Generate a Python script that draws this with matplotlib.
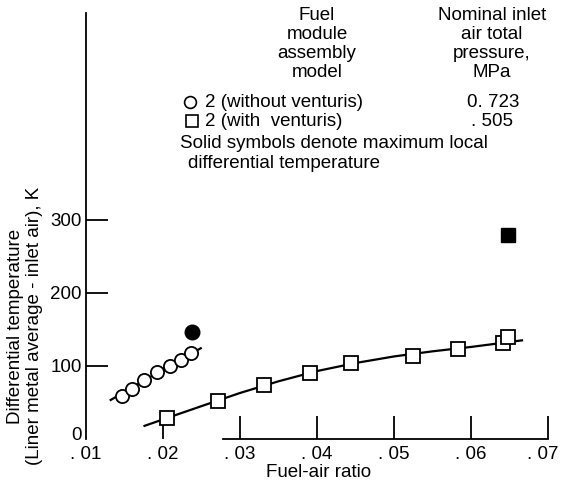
import matplotlib
matplotlib.use("Agg")
import matplotlib.pyplot as plt
from matplotlib import font_manager
from matplotlib.transforms import ScaledTranslation

# ---------------- data ----------------
circ_x = [0.01462, 0.01592, 0.01755, 0.01920, 0.02093, 0.02231, 0.02360]
circ_y = [58.9, 68.1, 80.8, 92.2, 100.0, 108.2, 117.4]
circ_max_x = [0.02382]
circ_max_y = [147.0]
circ_fit_x = [0.0132, 0.0190, 0.0249]
circ_fit_y = [53.4, 89.0, 124.2]

sq_x = [0.0205, 0.02714, 0.03310, 0.03902, 0.04446, 0.05245, 0.05836, 0.06411, 0.06475]
sq_y = [28.4, 52.5, 74.0, 90.8, 104.5, 114.1, 123.3, 131.1, 139.3]
sq_max_x = [0.06483]
sq_max_y = [279.5]
sq_fit_x = [0.0176, 0.0206, 0.025, 0.030, 0.035, 0.040, 0.045, 0.050, 0.055, 0.060, 0.0666]
sq_fit_y = [18, 29, 45, 63, 79, 93, 104, 113, 120, 126, 135]

x_ticks = [0.01, 0.02, 0.03, 0.04, 0.05, 0.06, 0.07]
x_tick_labels = [". 01", ". 02", ". 03", ". 04", ". 05", ". 06", ". 07"]
y_ticks = [0, 100, 200, 300]
y_tick_labels = ["0", "100", "200", "300"]

# ---------------- font ----------------
names = {f.name for f in font_manager.fontManager.ttflist}
if "Liberation Sans" in names:
    plt.rcParams["font.family"] = ["Liberation Sans", "DejaVu Sans"]
    FS = 13.5
else:
    plt.rcParams["font.family"] = ["DejaVu Sans"]
    FS = 12

W, H = 562, 488
fig = plt.figure(figsize=(W / 100, H / 100), dpi=100)


def fx(px):
    return px / W


def fy(py):
    return 1 - py / H


ax_left, ax_right, ax_top, ax_bot = 86, 552, 13, 439
ax = fig.add_axes([fx(ax_left), fy(ax_bot), fx(ax_right - ax_left), (ax_bot - ax_top) / H])
ax.set_xlim(0.01, 0.0705)
ax.set_ylim(0, 583)

lw = 1.6
ax.plot(circ_fit_x, circ_fit_y, color="black", lw=lw, zorder=2)
ax.plot(sq_fit_x, sq_fit_y, color="black", lw=lw, zorder=2)
ax.plot(circ_x, circ_y, linestyle="none", marker="o", ms=9.5, mfc="white",
        mec="black", mew=1.3, zorder=3)
ax.plot(sq_x, sq_y, linestyle="none", marker="s", ms=9.5, mfc="white",
        mec="black", mew=1.3, zorder=3)
ax.plot(circ_max_x, circ_max_y, linestyle="none", marker="o", ms=10.5,
        mfc="black", mec="black", zorder=3)
ax.plot(sq_max_x, sq_max_y, linestyle="none", marker="s", ms=10.5,
        mfc="black", mec="black", zorder=3)

for s in ["top", "right"]:
    ax.spines[s].set_visible(False)
ax.spines["left"].set_linewidth(1.3)
ax.spines["bottom"].set_linewidth(1.3)
ax.spines["bottom"].set_bounds(0.02775, 0.07)

ax.set_xticks(x_ticks)
ax.set_xticklabels(x_tick_labels, fontsize=FS)
ax.set_yticks(y_ticks)
ax.set_yticklabels(y_tick_labels, fontsize=FS)
ax.tick_params(axis="x", direction="in", length=16.5, width=1.3, pad=5)
ax.tick_params(axis="y", direction="in", length=16, width=1.3, pad=3)
ax.xaxis.get_major_ticks()[0].tick1line.set_visible(False)
ax.yaxis.get_major_ticks()[0].tick1line.set_visible(False)
# raise the "0" label a little, as in the reference
zero_lbl = ax.get_yticklabels()[0]
zero_lbl.set_transform(zero_lbl.get_transform() + ScaledTranslation(0, 4 / 72, fig.dpi_scale_trans))
# keep the last x label inside the canvas
last_lbl = ax.get_xticklabels()[-1]
last_lbl.set_transform(last_lbl.get_transform() + ScaledTranslation(-4 / 72, 0, fig.dpi_scale_trans))
ax.set_xlabel("Fuel-air ratio", fontsize=FS, labelpad=1)

fig.text(fx(25), fy(326), "Differential temperature\n(Liner metal average - inlet air), K",
         rotation=90, ha="center", va="center", fontsize=FS, linespacing=1.2,
         multialignment="center")

# legend block
fig.text(fx(317), fy(44), "Fuel\nmodule\nassembly\nmodel", ha="center", va="center",
         fontsize=FS, linespacing=1.15)
fig.text(fx(492), fy(44), "Nominal inlet\nair total\npressure,\nMPa", ha="center",
         va="center", fontsize=FS, linespacing=1.15)
fig.text(fx(205), fy(102), "2 (without venturis)", ha="left", va="center", fontsize=FS)
fig.text(fx(205), fy(121), "2 (with  venturis)", ha="left", va="center", fontsize=FS)
fig.text(fx(493), fy(102), "0. 723", ha="center", va="center", fontsize=FS)
fig.text(fx(513), fy(121), ". 505", ha="right", va="center", fontsize=FS)
fig.text(fx(180), fy(143), "Solid symbols denote maximum local", ha="left", va="center",
         fontsize=FS)
fig.text(fx(188), fy(164), "differential temperature", ha="left", va="center",
         fontsize=FS)
ax.plot([fx(190)], [fy(102)], transform=fig.transFigure, marker="o", ms=8.5,
        mfc="white", mec="black", mew=1.2, clip_on=False, linestyle="none")
ax.plot([fx(192)], [fy(121)], transform=fig.transFigure, marker="s", ms=8,
        mfc="white", mec="black", mew=1.2, clip_on=False, linestyle="none")

fig.savefig("out.png", dpi=100)
